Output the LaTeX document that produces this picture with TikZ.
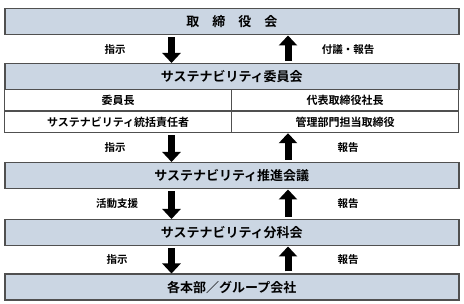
\documentclass[tikz,border=0pt]{standalone}
\usepackage{fontspec}
\newfontfamily\jp{Noto Sans CJK JP}[BoldFont={Noto Sans CJK JP Bold}]
\usetikzlibrary{arrows.meta,calc}
\definecolor{boxfill}{RGB}{203,214,227}
\definecolor{boxline}{RGB}{80,80,80}
\tikzset{
  bar/.style={draw=boxline, line width=1.5pt, fill=boxfill, minimum width=454pt, minimum height=26pt, inner sep=0pt, anchor=north west, font=\jp\bfseries\fontsize{13}{15}\selectfont},
  cell/.style={draw=boxline, line width=1.2pt, fill=white, minimum width=227pt, minimum height=21.5pt, inner sep=0pt, anchor=north west, font=\jp\bfseries\fontsize{11}{13}\selectfont},
  lbl/.style={font=\jp\bfseries\fontsize{10.5}{12}\selectfont, inner sep=0pt},
  blk/.style={line width=7pt, -{Triangle[width=18pt,length=10pt]}, shorten <=2pt}
}
\begin{document}
\begin{tikzpicture}[x=1pt,y=-1pt]
\useasboundingbox (0,0) rectangle (464,304);
\coordinate (xd) at (171.5,0);
\coordinate (xu) at (288,0);
% boxes
\node[bar] (top) at (4,8) {取　締　役　会};
\node[bar] (comm) at (4,63) {サステナビリティ委員会};
\node[cell] (r1l) at (4,89) {委員長};
\node[cell] (r1r) at (231,89) {代表取締役社長};
\node[cell] (r2l) at (4,110.5) {サステナビリティ統括責任者};
\node[cell] (r2r) at (231,110.5) {管理部門担当取締役};
\node[bar] (prom) at (4,162) {サステナビリティ推進会議};
\node[bar] (sub) at (4,219) {サステナビリティ分科会};
\node[bar] (bot) at (4,273.5) {各本部／グループ会社};
% arrows
\draw[blk] (top.south -| xd) -- (comm.north -| xd);
\draw[blk] (comm.north -| xu) -- (top.south -| xu);
\draw[blk] (r2l.south -| xd) -- (prom.north -| xd);
\draw[blk] (prom.north -| xu) -- (r2r.south -| xu);
\draw[blk] (prom.south -| xd) -- (sub.north -| xd);
\draw[blk] (sub.north -| xu) -- (prom.south -| xu);
\draw[blk] (sub.south -| xd) -- (bot.north -| xd);
\draw[blk] (bot.north -| xu) -- (sub.south -| xu);
% labels
\node[lbl] (l1) at (115,50) {指示};
\node[lbl] (l2) at (348,50) {付議・報告};
\node[lbl] (l3) at (115,148) {指示};
\node[lbl] (l4) at (348,148) {報告};
\node[lbl] (l5) at (117,204) {活動支援};
\node[lbl] (l6) at (348,204) {報告};
\node[lbl] (l7) at (117,260) {指示};
\node[lbl] (l8) at (348,260) {報告};
\end{tikzpicture}
\end{document}
